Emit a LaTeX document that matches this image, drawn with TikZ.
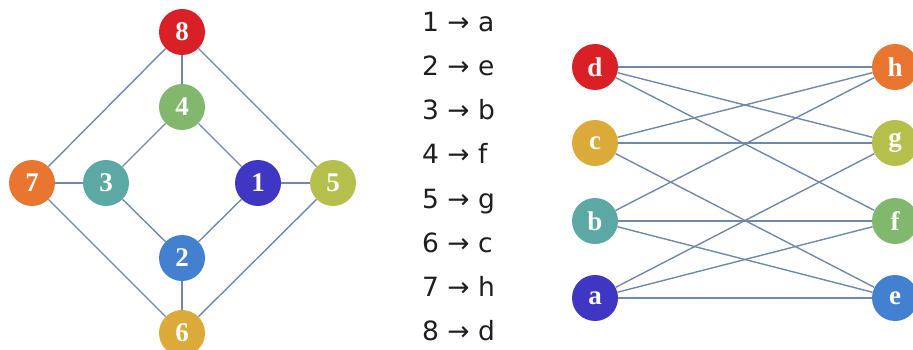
\documentclass[tikz,border=0pt]{standalone}
\usepackage{fontspec}
\setmainfont{DejaVu Sans}
\newfontfamily\lblfont{Liberation Serif}
\definecolor{cred}{HTML}{D92027}
\definecolor{cgreen}{HTML}{82B86D}
\definecolor{corange}{HTML}{E87530}
\definecolor{cteal}{HTML}{5BA8A5}
\definecolor{cindigo}{HTML}{3F36C4}
\definecolor{colive}{HTML}{B5BF4B}
\definecolor{cblue}{HTML}{4480D0}
\definecolor{cgold}{HTML}{DCAA38}
\definecolor{edgec}{HTML}{7088AA}
\definecolor{txtc}{HTML}{1E1E1E}
\tikzset{
  vtx/.style={circle, minimum size=46pt, inner sep=0pt, text=white,
    font=\lblfont\bfseries\fontsize{27}{27}\selectfont},
  link/.style={draw=edgec, line width=1.4pt},
  maptxt/.style={anchor=base west, text=txtc, font=\fontsize{26.5}{26.5}\selectfont, inner sep=0pt}
}
\begin{document}
\begin{tikzpicture}[x=1pt,y=-1pt]
\useasboundingbox (0,0) rectangle (913,350);
% left graph
\node[vtx, fill=cred]    (n8) at (182,32)  {8};
\node[vtx, fill=cgreen]  (n4) at (182,107) {4};
\node[vtx, fill=corange] (n7) at (32,183)  {7};
\node[vtx, fill=cteal]   (n3) at (106,183) {3};
\node[vtx, fill=cindigo] (n1) at (258,183) {1};
\node[vtx, fill=colive]  (n5) at (333,183) {5};
\node[vtx, fill=cblue]   (n2) at (182,258) {2};
\node[vtx, fill=cgold]   (n6) at (182,333) {6};
% right graph
\node[vtx, fill=cred]    (d) at (595,67)  {d};
\node[vtx, fill=cgold]   (c) at (595,143) {c};
\node[vtx, fill=cteal]   (b) at (595,221) {b};
\node[vtx, fill=cindigo] (a) at (595,298) {a};
\node[vtx, fill=corange] (h) at (895,67)  {h};
\node[vtx, fill=colive]  (g) at (895,143) {g};
\node[vtx, fill=cgreen]  (f) at (895,221) {f};
\node[vtx, fill=cblue]   (e) at (895,298) {e};
% edges
\foreach \u/\v in {n8/n4,n8/n7,n8/n5,n7/n3,n7/n6,n4/n3,n4/n1,n3/n2,n1/n2,n1/n5,n5/n6,n2/n6,
  d/h,d/g,d/f,c/h,c/g,c/e,b/h,b/f,b/e,a/g,a/f,a/e}
  \draw[link] (\u) -- (\v);
% mapping text
\node[maptxt] (m1) at (422,32)  {1 → a};
\node[maptxt] (m2) at (422,76)  {2 → e};
\node[maptxt] (m3) at (422,120) {3 → b};
\node[maptxt] (m4) at (422,164) {4 → f};
\node[maptxt] (m5) at (422,208) {5 → g};
\node[maptxt] (m6) at (422,252) {6 → c};
\node[maptxt] (m7) at (422,296) {7 → h};
\node[maptxt] (m8) at (422,340) {8 → d};
\end{tikzpicture}
\end{document}
